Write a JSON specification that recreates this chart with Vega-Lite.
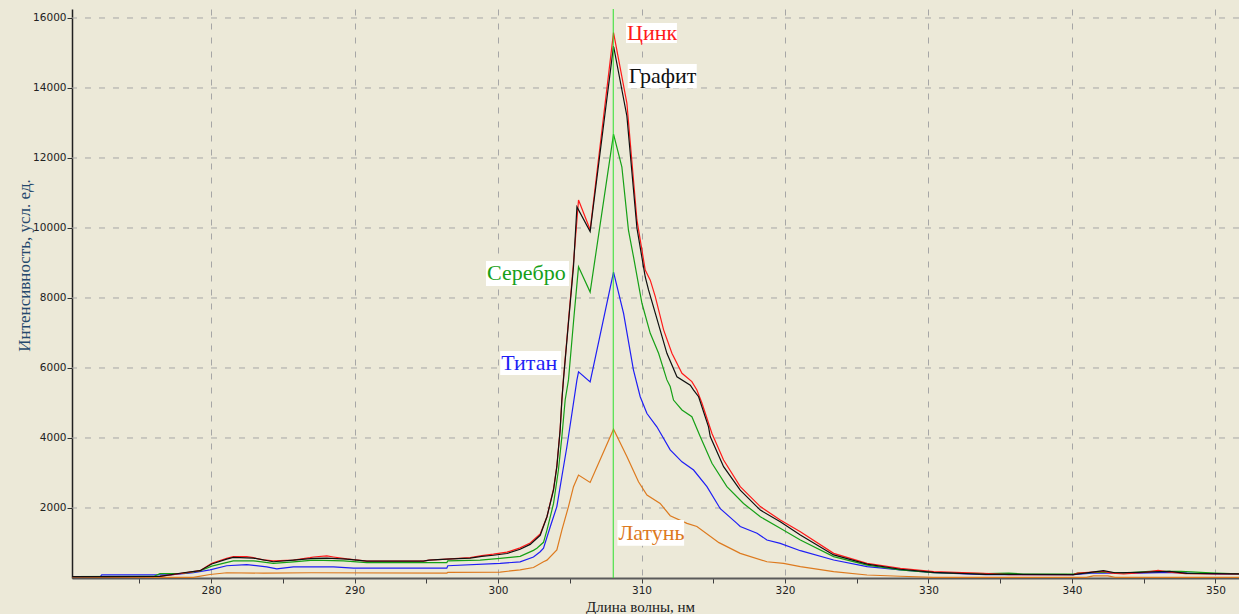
{
 "$schema": "https://vega.github.io/schema/vega-lite/v6.json",
 "width": 1167,
 "height": 569,
 "autosize": {"type": "none"},
 "padding": {"left": 72, "top": 9, "right": 0, "bottom": 36},
 "background": "#ECE9D8",
 "config": {"view": {"stroke": null}, "font": "DejaVu Sans"},
 "datasets": {
  "spectra": [
   {"series":"Латунь","wl":270.3,"intensity":20},{"series":"Латунь","wl":278.77,"intensity":20},{"series":"Латунь","wl":279.93,"intensity":100},{"series":"Латунь","wl":281.09,"intensity":150},{"series":"Латунь","wl":283.65,"intensity":140},{"series":"Латунь","wl":287.0,"intensity":150},{"series":"Латунь","wl":296.43,"intensity":140},{"series":"Латунь","wl":296.5,"intensity":160},{"series":"Латунь","wl":300.15,"intensity":170},{"series":"Латунь","wl":301.54,"intensity":230},{"series":"Латунь","wl":302.47,"intensity":300},{"series":"Латунь","wl":303.17,"intensity":465},{"series":"Латунь","wl":303.41,"intensity":510},{"series":"Латунь","wl":304.1,"intensity":800},{"series":"Латунь","wl":304.45,"intensity":1370},{"series":"Латунь","wl":304.91,"intensity":2040},{"series":"Латунь","wl":305.26,"intensity":2610},{"series":"Латунь","wl":305.61,"intensity":2940},{"series":"Латунь","wl":306.42,"intensity":2730},{"series":"Латунь","wl":308.05,"intensity":4250},{"series":"Латунь","wl":308.98,"intensity":3470},{"series":"Латунь","wl":309.79,"intensity":2750},{"series":"Латунь","wl":310.38,"intensity":2370},{"series":"Латунь","wl":311.3,"intensity":2130},{"series":"Латунь","wl":312.0,"intensity":1780},{"series":"Латунь","wl":313.17,"intensity":1560},{"series":"Латунь","wl":313.86,"intensity":1470},{"series":"Латунь","wl":315.4,"intensity":1010},{"series":"Латунь","wl":316.88,"intensity":705},{"series":"Латунь","wl":318.74,"intensity":465},{"series":"Латунь","wl":319.9,"intensity":420},{"series":"Латунь","wl":321.07,"intensity":325},{"series":"Латунь","wl":323.39,"intensity":180},{"series":"Латунь","wl":325.72,"intensity":85},{"series":"Латунь","wl":328.04,"intensity":50},{"series":"Латунь","wl":330.36,"intensity":20},{"series":"Латунь","wl":341.0,"intensity":20},{"series":"Латунь","wl":341.5,"intensity":60},{"series":"Латунь","wl":342.5,"intensity":60},{"series":"Латунь","wl":343.0,"intensity":20},{"series":"Латунь","wl":351.7,"intensity":20},

   {"series":"Титан","wl":270.3,"intensity":40},{"series":"Титан","wl":272.3,"intensity":45},{"series":"Титан","wl":272.38,"intensity":90},{"series":"Титан","wl":277.14,"intensity":90},{"series":"Титан","wl":278.77,"intensity":150},{"series":"Титан","wl":279.93,"intensity":230},{"series":"Титан","wl":281.09,"intensity":350},{"series":"Титан","wl":282.49,"intensity":380},{"series":"Титан","wl":283.88,"intensity":320},{"series":"Титан","wl":284.58,"intensity":260},{"series":"Титан","wl":285.74,"intensity":320},{"series":"Титан","wl":288.53,"intensity":320},{"series":"Титан","wl":289.92,"intensity":280},{"series":"Титан","wl":296.43,"intensity":280},{"series":"Титан","wl":296.5,"intensity":350},{"series":"Титан","wl":300.15,"intensity":420},{"series":"Титан","wl":301.54,"intensity":460},{"series":"Титан","wl":302.47,"intensity":600},{"series":"Титан","wl":302.94,"intensity":750},{"series":"Титан","wl":303.17,"intensity":850},{"series":"Титан","wl":303.64,"intensity":1465},{"series":"Титан","wl":304.1,"intensity":2040},{"series":"Титан","wl":304.45,"intensity":2900},{"series":"Титан","wl":304.8,"intensity":3750},{"series":"Титан","wl":305.15,"intensity":4700},{"series":"Титан","wl":305.5,"intensity":5660},{"series":"Титан","wl":305.61,"intensity":5890},{"series":"Титан","wl":306.42,"intensity":5600},{"series":"Титан","wl":308.05,"intensity":8740},{"series":"Титан","wl":308.75,"intensity":7560},{"series":"Титан","wl":309.44,"intensity":5940},{"series":"Титан","wl":309.91,"intensity":5180},{"series":"Титан","wl":310.38,"intensity":4700},{"series":"Титан","wl":311.07,"intensity":4320},{"series":"Титан","wl":312.0,"intensity":3660},{"series":"Титан","wl":312.82,"intensity":3320},{"series":"Титан","wl":313.63,"intensity":3085},{"series":"Титан","wl":314.56,"intensity":2610},{"series":"Титан","wl":315.49,"intensity":1980},{"series":"Титан","wl":316.65,"intensity":1560},{"series":"Титан","wl":316.88,"intensity":1470},{"series":"Титан","wl":318.05,"intensity":1280},{"series":"Титан","wl":318.74,"intensity":1085},{"series":"Титан","wl":319.67,"intensity":990},{"series":"Титан","wl":321.07,"intensity":780},{"series":"Титан","wl":323.39,"intensity":515},{"series":"Титан","wl":325.72,"intensity":325},{"series":"Титан","wl":328.04,"intensity":230},{"series":"Титан","wl":330.36,"intensity":150},{"series":"Титан","wl":331.3,"intensity":140},{"series":"Титан","wl":334.0,"intensity":95},{"series":"Титан","wl":340.1,"intensity":95},{"series":"Титан","wl":341.4,"intensity":140},{"series":"Титан","wl":344.6,"intensity":140},{"series":"Титан","wl":346.8,"intensity":160},{"series":"Титан","wl":350.0,"intensity":115},{"series":"Титан","wl":351.7,"intensity":110},

   {"series":"Серебро","wl":270.3,"intensity":40},{"series":"Серебро","wl":276.0,"intensity":45},{"series":"Серебро","wl":276.44,"intensity":125},{"series":"Серебро","wl":278.07,"intensity":130},{"series":"Серебро","wl":279.23,"intensity":200},{"series":"Серебро","wl":280.05,"intensity":340},{"series":"Серебро","wl":281.55,"intensity":490},{"series":"Серебро","wl":282.95,"intensity":490},{"series":"Серебро","wl":284.34,"intensity":420},{"series":"Серебро","wl":285.74,"intensity":460},{"series":"Серебро","wl":287.13,"intensity":510},{"series":"Серебро","wl":289.22,"intensity":490},{"series":"Серебро","wl":290.86,"intensity":440},{"series":"Серебро","wl":296.43,"intensity":440},{"series":"Серебро","wl":296.5,"intensity":490},{"series":"Серебро","wl":298.75,"intensity":510},{"series":"Серебро","wl":300.15,"intensity":560},{"series":"Серебро","wl":301.54,"intensity":620},{"series":"Серебро","wl":302.47,"intensity":790},{"series":"Серебро","wl":302.71,"intensity":850},{"series":"Серебро","wl":303.17,"intensity":1020},{"series":"Серебро","wl":303.41,"intensity":1370},{"series":"Серебро","wl":303.87,"intensity":2130},{"series":"Серебро","wl":304.21,"intensity":3085},{"series":"Серебро","wl":304.45,"intensity":4040},{"series":"Серебро","wl":304.68,"intensity":5085},{"series":"Серебро","wl":304.91,"intensity":5660},{"series":"Серебро","wl":305.3,"intensity":7500},{"series":"Серебро","wl":305.61,"intensity":8890},{"series":"Серебро","wl":306.42,"intensity":8170},{"series":"Серебро","wl":308.05,"intensity":12680},{"series":"Серебро","wl":308.63,"intensity":11750},{"series":"Серебро","wl":309.09,"intensity":9940},{"series":"Серебро","wl":309.44,"intensity":9180},{"series":"Серебро","wl":310.03,"intensity":7850},{"series":"Серебро","wl":310.61,"intensity":6990},{"series":"Серебро","wl":311.19,"intensity":6420},{"series":"Серебро","wl":311.77,"intensity":5660},{"series":"Серебро","wl":312.0,"intensity":5470},{"series":"Серебро","wl":312.23,"intensity":5085},{"series":"Серебро","wl":312.82,"intensity":4800},{"series":"Серебро","wl":313.51,"intensity":4610},{"series":"Серебро","wl":314.09,"intensity":4040},{"series":"Серебро","wl":314.91,"intensity":3280},{"series":"Серебро","wl":315.95,"intensity":2610},{"series":"Серебро","wl":317.11,"intensity":2130},{"series":"Серебро","wl":318.28,"intensity":1750},{"series":"Серебро","wl":319.67,"intensity":1420},{"series":"Серебро","wl":321.07,"intensity":1085},{"series":"Серебро","wl":323.39,"intensity":610},{"series":"Серебро","wl":325.72,"intensity":370},{"series":"Серебро","wl":328.04,"intensity":230},{"series":"Серебро","wl":330.36,"intensity":150},{"series":"Серебро","wl":334.0,"intensity":125},{"series":"Серебро","wl":335.6,"intensity":140},{"series":"Серебро","wl":336.6,"intensity":115},{"series":"Серебро","wl":340.1,"intensity":115},{"series":"Серебро","wl":340.4,"intensity":140},{"series":"Серебро","wl":342.0,"intensity":170},{"series":"Серебро","wl":343.6,"intensity":140},{"series":"Серебро","wl":345.4,"intensity":190},{"series":"Серебро","wl":347.6,"intensity":190},{"series":"Серебро","wl":350.0,"intensity":140},{"series":"Серебро","wl":351.7,"intensity":115},

   {"series":"Цинк","wl":270.3,"intensity":40},{"series":"Цинк","wl":272.38,"intensity":40},{"series":"Цинк","wl":276.44,"intensity":45},{"series":"Цинк","wl":278.07,"intensity":140},{"series":"Цинк","wl":279.23,"intensity":210},{"series":"Цинк","wl":280.05,"intensity":420},{"series":"Цинк","wl":281.09,"intensity":560},{"series":"Цинк","wl":281.55,"intensity":610},{"series":"Цинк","wl":282.49,"intensity":610},{"series":"Цинк","wl":282.95,"intensity":580},{"series":"Цинк","wl":283.65,"intensity":520},{"series":"Цинк","wl":284.34,"intensity":490},{"series":"Цинк","wl":285.74,"intensity":510},{"series":"Цинк","wl":286.9,"intensity":580},{"series":"Цинк","wl":287.13,"intensity":600},{"series":"Цинк","wl":288.07,"intensity":630},{"series":"Цинк","wl":288.53,"intensity":600},{"series":"Цинк","wl":289.46,"intensity":545},{"series":"Цинк","wl":290.86,"intensity":485},{"series":"Цинк","wl":294.8,"intensity":485},{"series":"Цинк","wl":295.2,"intensity":510},{"series":"Цинк","wl":296.43,"intensity":540},{"series":"Цинк","wl":298.06,"intensity":580},{"series":"Цинк","wl":298.87,"intensity":640},{"series":"Цинк","wl":299.68,"intensity":680},{"series":"Цинк","wl":300.62,"intensity":740},{"series":"Цинк","wl":301.54,"intensity":860},{"series":"Цинк","wl":302.24,"intensity":1000},{"series":"Цинк","wl":302.94,"intensity":1260},{"series":"Цинк","wl":303.41,"intensity":1750},{"series":"Цинк","wl":303.87,"intensity":2550},{"series":"Цинк","wl":304.1,"intensity":3200},{"series":"Цинк","wl":304.33,"intensity":4250},{"series":"Цинк","wl":304.45,"intensity":5100},{"series":"Цинк","wl":304.56,"intensity":5700},{"series":"Цинк","wl":304.9,"intensity":7300},{"series":"Цинк","wl":305.26,"intensity":9000},{"series":"Цинк","wl":305.61,"intensity":10800},{"series":"Цинк","wl":306.42,"intensity":9950},{"series":"Цинк","wl":308.05,"intensity":15580},{"series":"Цинк","wl":308.98,"intensity":13570},{"series":"Цинк","wl":309.68,"intensity":10230},{"series":"Цинк","wl":310.26,"intensity":8800},{"series":"Цинк","wl":310.61,"intensity":8510},{"series":"Цинк","wl":310.96,"intensity":8040},{"series":"Цинк","wl":311.54,"intensity":7090},{"series":"Цинк","wl":312.12,"intensity":6420},{"series":"Цинк","wl":312.82,"intensity":5850},{"series":"Цинк","wl":313.51,"intensity":5610},{"series":"Цинк","wl":313.86,"intensity":5370},{"series":"Цинк","wl":314.21,"intensity":5000},{"series":"Цинк","wl":314.91,"intensity":4130},{"series":"Цинк","wl":315.72,"intensity":3370},{"series":"Цинк","wl":316.88,"intensity":2610},{"series":"Цинк","wl":318.28,"intensity":2040},{"series":"Цинк","wl":319.67,"intensity":1660},{"series":"Цинк","wl":321.07,"intensity":1320},{"series":"Цинк","wl":323.39,"intensity":705},{"series":"Цинк","wl":325.72,"intensity":420},{"series":"Цинк","wl":328.04,"intensity":275},{"series":"Цинк","wl":330.36,"intensity":180},{"series":"Цинк","wl":333.84,"intensity":135},{"series":"Цинк","wl":335.6,"intensity":95},{"series":"Цинк","wl":340.1,"intensity":95},{"series":"Цинк","wl":340.4,"intensity":140},{"series":"Цинк","wl":341.4,"intensity":170},{"series":"Цинк","wl":342.2,"intensity":190},{"series":"Цинк","wl":342.8,"intensity":140},{"series":"Цинк","wl":343.6,"intensity":115},{"series":"Цинк","wl":344.4,"intensity":140},{"series":"Цинк","wl":345.2,"intensity":170},{"series":"Цинк","wl":346.0,"intensity":220},{"series":"Цинк","wl":346.8,"intensity":170},{"series":"Цинк","wl":347.9,"intensity":125},{"series":"Цинк","wl":350.0,"intensity":115},{"series":"Цинк","wl":351.7,"intensity":115},

   {"series":"Графит","wl":270.3,"intensity":40},{"series":"Графит","wl":272.38,"intensity":40},{"series":"Графит","wl":276.44,"intensity":45},{"series":"Графит","wl":278.07,"intensity":150},{"series":"Графит","wl":279.23,"intensity":210},{"series":"Графит","wl":280.05,"intensity":400},{"series":"Графит","wl":281.09,"intensity":540},{"series":"Графит","wl":281.55,"intensity":590},{"series":"Графит","wl":282.95,"intensity":570},{"series":"Графит","wl":284.34,"intensity":465},{"series":"Графит","wl":285.74,"intensity":510},{"series":"Графит","wl":287.13,"intensity":560},{"series":"Графит","wl":288.07,"intensity":570},{"series":"Графит","wl":289.46,"intensity":540},{"series":"Графит","wl":290.86,"intensity":485},{"series":"Графит","wl":294.8,"intensity":485},{"series":"Графит","wl":295.2,"intensity":510},{"series":"Графит","wl":296.43,"intensity":540},{"series":"Графит","wl":298.06,"intensity":570},{"series":"Графит","wl":298.87,"intensity":620},{"series":"Графит","wl":299.68,"intensity":650},{"series":"Графит","wl":300.62,"intensity":700},{"series":"Графит","wl":301.54,"intensity":820},{"series":"Графит","wl":302.24,"intensity":960},{"series":"Графит","wl":302.94,"intensity":1220},{"series":"Графит","wl":303.41,"intensity":1750},{"series":"Графит","wl":303.87,"intensity":2515},{"series":"Графит","wl":304.1,"intensity":3180},{"series":"Графит","wl":304.33,"intensity":4230},{"series":"Графит","wl":304.45,"intensity":5085},{"series":"Графит","wl":304.56,"intensity":5660},{"series":"Графит","wl":304.9,"intensity":7250},{"series":"Графит","wl":305.26,"intensity":8900},{"series":"Графит","wl":305.5,"intensity":10600},{"series":"Графит","wl":306.42,"intensity":9900},{"series":"Графит","wl":308.05,"intensity":15200},{"series":"Графит","wl":308.98,"intensity":13200},{"series":"Графит","wl":309.68,"intensity":10000},{"series":"Графит","wl":310.26,"intensity":8600},{"series":"Графит","wl":310.49,"intensity":8230},{"series":"Графит","wl":310.96,"intensity":7570},{"series":"Графит","wl":311.77,"intensity":6420},{"series":"Графит","wl":312.47,"intensity":5750},{"series":"Графит","wl":313.4,"intensity":5510},{"series":"Графит","wl":313.63,"intensity":5370},{"series":"Графит","wl":313.98,"intensity":5180},{"series":"Графит","wl":314.67,"intensity":4320},{"series":"Графит","wl":314.79,"intensity":4040},{"series":"Графит","wl":315.72,"intensity":3180},{"series":"Графит","wl":316.88,"intensity":2510},{"series":"Графит","wl":318.28,"intensity":1940},{"series":"Графит","wl":319.67,"intensity":1610},{"series":"Графит","wl":321.07,"intensity":1230},{"series":"Графит","wl":323.39,"intensity":660},{"series":"Графит","wl":325.72,"intensity":395},{"series":"Графит","wl":328.04,"intensity":250},{"series":"Графит","wl":330.36,"intensity":160},{"series":"Графит","wl":334.0,"intensity":105},{"series":"Графит","wl":340.1,"intensity":95},{"series":"Графит","wl":342.2,"intensity":210},{"series":"Графит","wl":343.0,"intensity":150},{"series":"Графит","wl":344.6,"intensity":160},{"series":"Графит","wl":346.8,"intensity":190},{"series":"Графит","wl":348.0,"intensity":130},{"series":"Графит","wl":350.0,"intensity":125},{"series":"Графит","wl":351.7,"intensity":120}
  ],
  "labels": [
   {"series":"Цинк","x1":308.92,"x2":312.47,"y1":15286,"y2":15857,"ym":15571},
   {"series":"Графит","x1":309.04,"x2":313.85,"y1":13991,"y2":14686,"ym":14338},
   {"series":"Серебро","x1":299.16,"x2":304.95,"y1":8343,"y2":9057,"ym":8700},
   {"series":"Титан","x1":300.15,"x2":304.39,"y1":5800,"y2":6486,"ym":6143},
   {"series":"Латунь","x1":308.32,"x2":312.97,"y1":923,"y2":1657,"ym":1290}
  ],
  "gridlevels": [{"level":2000},{"level":4000},{"level":6000},{"level":8000},{"level":10000},{"level":12000},{"level":14000},{"level":16000}],
  "marker": [{"wl": 308.03}]
 },
 "layer": [
  {
   "data": {"name": "gridlevels"},
   "mark": {"type": "rule", "color": "#A6A6A6", "strokeWidth": 1, "strokeDash": [6, 8]},
   "encoding": {"y": {"field": "level", "type": "quantitative"}}
  },
  {
   "data": {"name": "spectra"},
   "mark": {"type": "line", "strokeWidth": 1.2, "clip": true},
   "encoding": {
    "x": {"field": "wl", "type": "quantitative",
     "scale": {"domain": [270.31, 351.64], "nice": false, "zero": false},
     "axis": {
      "values": [280,275,290,285,300,295,310,305,320,315,330,325,340,335,350,345],
      "labelExpr": "datum.value % 10 == 0 ? datum.label : ''",
      "labelOverlap": false,
      "grid": true,
      "gridDash": [6, 8],
      "gridColor": "#A6A6A6",
      "gridOpacity": {"condition": {"test": "datum.value % 10 != 0", "value": 0}, "value": 1},
      "domainColor": "#5A5A5A", "domainWidth": 2,
      "tickColor": "#404040", "tickSize": 5, "tickWidth": 1,
      "labelFont": "DejaVu Sans", "labelFontSize": 10.5, "labelColor": "#222222", "labelPadding": 2,
      "title": "Длина волны, нм",
      "titleFont": "Liberation Serif", "titleFontSize": 15, "titleFontWeight": "normal", "titleColor": "#202020",
      "titleX": 568, "titleY": 28, "titleAlign": "center", "titleBaseline": "middle"
     }
    },
    "y": {"field": "intensity", "type": "quantitative",
     "scale": {"domain": [0, 16257], "nice": false},
     "axis": {
      "values": [2000,4000,6000,8000,10000,12000,14000,16000],
      "format": "d",
      "labelOverlap": false,
      "grid": false,
      "domainColor": "#202020", "domainWidth": 1.5,
      "tickColor": "#303030", "tickSize": 5, "tickWidth": 1,
      "labelFont": "DejaVu Sans", "labelFontSize": 10.5, "labelColor": "#222222", "labelPadding": 1,
      "title": "Интенсивность, усл. ед.",
      "titleFont": "Liberation Serif", "titleFontSize": 17, "titleFontWeight": "normal", "titleColor": "#24486C",
      "titleX": -48, "titleY": 256, "titleAngle": -90, "titleAlign": "center", "titleBaseline": "middle"
     }
    },
    "color": {"field": "series", "type": "nominal",
     "scale": {"domain": ["Латунь","Титан","Серебро","Цинк","Графит"], "range": ["#DD7A1E","#1E1EF5","#16A016","#FF1A1A","#101010"]},
     "legend": null}
   }
  },
  {
   "data": {"name": "marker"},
   "mark": {"type": "rule", "color": "#2EE02E", "strokeWidth": 1},
   "encoding": {"x": {"field": "wl", "type": "quantitative"}}
  },
  {
   "data": {"name": "labels"},
   "mark": {"type": "rect", "fill": "#FFFFFF"},
   "encoding": {
    "x": {"field": "x1", "type": "quantitative"},
    "x2": {"field": "x2"},
    "y": {"field": "y1", "type": "quantitative"},
    "y2": {"field": "y2"}
   }
  },
  {
   "data": {"name": "labels"},
   "mark": {"type": "text", "font": "Liberation Serif", "fontSize": 22, "align": "left", "baseline": "middle", "dx": 1},
   "encoding": {
    "x": {"field": "x1", "type": "quantitative"},
    "y": {"field": "ym", "type": "quantitative"},
    "text": {"field": "series"},
    "color": {"field": "series", "type": "nominal", "legend": null}
   }
  }
 ]
}
